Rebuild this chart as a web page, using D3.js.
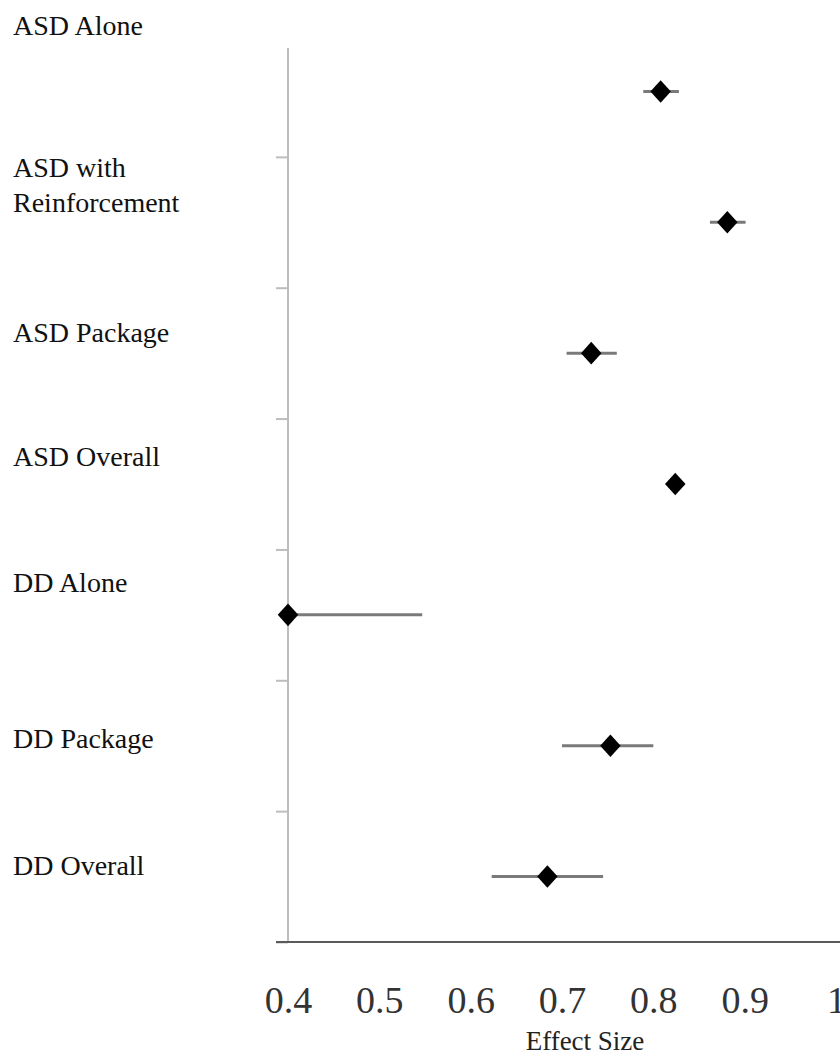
<!DOCTYPE html>
<html>
<head>
<meta charset="utf-8">
<script src="https://cdn.jsdelivr.net/npm/d3@7"></script>
<style>
  html, body { margin: 0; padding: 0; background: #fff; }
  svg { display: block; }
</style>
</head>
<body>
<svg id="chart" width="840" height="1057"></svg>
<script>
// ---- data ----
const categories = ["ASD Alone", "ASD with Reinforcement", "ASD Package", "ASD Overall", "DD Alone", "DD Package", "DD Overall"];
const labelLines = [["ASD Alone"], ["ASD with", "Reinforcement"], ["ASD Package"], ["ASD Overall"], ["DD Alone"], ["DD Package"], ["DD Overall"]];
const effect = [0.808, 0.881, 0.732, 0.824, 0.400, 0.753, 0.684];
const ciLow  = [0.789, 0.862, 0.705, 0.815, 0.400, 0.700, 0.623];
const ciHigh = [0.828, 0.901, 0.760, 0.834, 0.547, 0.800, 0.745];
const xTicks = [0.4, 0.5, 0.6, 0.7, 0.8, 0.9, 1];
const xTitle = "Effect Size";

// ---- layout ----
const FONT = '"Liberation Serif", "Times New Roman", Times, serif';
const labelBaselines = [35, 177, 342, 466, 592, 748, 875];
const svg = d3.select("#chart");
const x = d3.scaleLinear().domain([0.4, 1.0]).range([288, 836]);
const y = d3.scaleLinear().domain([0, categories.length]).range([26, 942]);
const axisTop = 48, axisBottom = 942;

// y axis line
svg.append("line")
  .attr("x1", x(0.4)).attr("x2", x(0.4))
  .attr("y1", axisTop).attr("y2", axisBottom)
  .attr("stroke", "#bdbdbd").attr("stroke-width", 2);

// y axis ticks (category boundaries)
const yAxis = d3.axisLeft(y)
  .tickValues(d3.range(1, categories.length + 1))
  .tickSize(12).tickSizeOuter(0).tickFormat("");
const gy = svg.append("g").attr("transform", `translate(${x(0.4)},0)`).call(yAxis);
gy.select(".domain").remove();
gy.selectAll(".tick line").attr("stroke", "#bdbdbd").attr("stroke-width", 2);

// x axis
const xAxis = d3.axisBottom(x)
  .tickValues(xTicks)
  .tickSize(0).tickSizeOuter(0)
  .tickFormat(d => d === 1 ? "1" : d3.format(".1f")(d));
const gx = svg.append("g").attr("transform", `translate(0,${axisBottom})`).call(xAxis);
gx.select(".domain").remove();
gx.selectAll(".tick text")
  .attr("y", 71).attr("dy", 0)
  .style("font-family", FONT)
  .style("font-size", "38px").attr("fill", "#333");
svg.append("line")
  .attr("x1", x(0.4) - 12).attr("x2", 840)
  .attr("y1", axisBottom).attr("y2", axisBottom)
  .attr("stroke", "#5a5a5a").attr("stroke-width", 2);

// x title
svg.append("text")
  .attr("x", 585).attr("y", 1050)
  .attr("text-anchor", "middle")
  .style("font-family", FONT)
  .style("font-size", "27px").attr("fill", "#222")
  .text(xTitle);

// category labels
const lg = svg.append("g");
labelLines.forEach((lines, i) => {
  const t = lg.append("text")
    .attr("x", 13).attr("y", labelBaselines[i])
    .style("font-family", FONT)
    .style("font-size", "28px").attr("fill", "#111");
  lines.forEach((ln, j) => {
    t.append("tspan").attr("x", 13).attr("dy", j === 0 ? 0 : 35).text(ln);
  });
});

// error bars
svg.append("g").selectAll("line")
  .data(categories)
  .join("line")
  .attr("x1", (d, i) => x(ciLow[i]))
  .attr("x2", (d, i) => x(ciHigh[i]))
  .attr("y1", (d, i) => y(i + 0.5))
  .attr("y2", (d, i) => y(i + 0.5))
  .attr("stroke", "#7a7a7a").attr("stroke-width", 3);

// markers
const diamond = d3.symbol().type(d3.symbolSquare).size(210);
svg.append("g").selectAll("path")
  .data(categories)
  .join("path")
  .attr("d", diamond)
  .attr("transform", (d, i) => `translate(${x(effect[i])},${y(i + 0.5)}) scale(1,1.1) rotate(45)`)
  .attr("fill", "#000");
</script>
</body>
</html>
